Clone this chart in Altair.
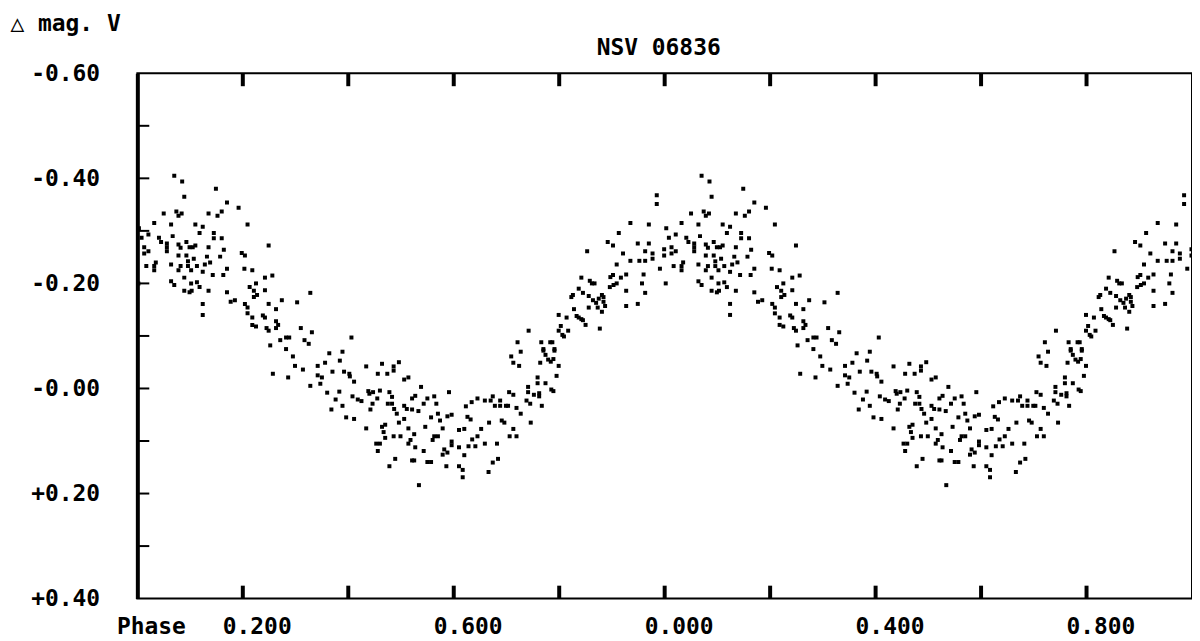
import altair as alt
import pandas as pd

# Phased photometry of NSV 06836 (one cycle, phase 0..1); chart repeats it over two cycles.
PHASE = [
    .070, .085, .089, .149, .170, .192, .050, .074, .078, .084, .135, .152, .160, .032, .064, .110,
    .124, .118, .145, .003, .008, .021, .041, .045, .067, .145, .160, .013, .013, .021, .056, .056,
    .056, .078, .082, .093, .099, .105, .110, .135, .164, .198, .204, .078, .093, .107, .132, .157,
    .096, .138, .017, .035, .032, .032, .064, .082, .078, .096, .102, .113, .128, .124, .170, .203,
    .143, .163, .089, .064, .070, .102, .113, .118, .089, .099, .103, .135, .170, .177, .185, .204,
    .124, .124, .209, .249, .218, .242, .256, .225, .213, .221, .227, .221, .242, .328, .274, .303,
    .209, .209, .249, .263, .218, .238, .242, .263, .267, .263, .218, .225, .245, .249, .310, .331,
    .406, .282, .288, .271, .317, .325, .252, .282, .364, .389, .295, .384, .356, .299, .342, .314,
    .370, .392, .402, .403, .257, .342, .350, .286, .347, .360, .376, .389, .368, .396, .383, .328,
    .434, .464, .486, .486, .496, .456, .474, .411, .506, .514, .538, .591, .438, .440, .447, .460,
    .478, .483, .408, .418, .425, .455, .446, .475, .483, .521, .527, .550, .563, .543, .567, .506,
    .511, .521, .487, .492, .442, .533, .570, .557, .588, .596, .411, .506, .574, .496, .470, .464,
    .434, .514, .546, .579, .610, .467, .525, .486, .499, .470, .563, .570, .560, .518, .514, .596,
    .596, .453, .460, .527, .610, .582, .588, .579, .456, .543, .489, .521, .525, .550, .557, .478,
    .586, .610, .534, .727, .770, .774, .779, .784, .789, .791, .709, .713, .724, .764, .799, .795,
    .759, .759, .774, .741, .741, .785, .789, .705, .713, .752, .762, .762, .674, .670, .645, .659,
    .688, .634, .623, .678, .688, .699, .703, .738, .745, .767, .719, .727, .626, .632, .691, .696,
    .667, .746, .620, .652, .713, .645, .635, .706, .719, .628, .641, .659, .682, .620, .684, .674,
    .617, .666, .617, .742, .721, .766, .783, .787, .770, .791, .842, .858, .862, .867, .897, .902,
    .917, .927, .960, .896, .903, .909, .957, .002, .837, .845, .927, .963, .826, .823, .856, .864,
    .870, .875, .881, .884, .884, .887, .927, .949, .856, .873, .881, .828, .799, .814, .833, .837,
    .842, .845, .850, .877, .803, .799, .817, .806, .809, .985, .985, .935, .970, .913, .892, .902,
    .949, .970, .853, .921, .963, .977, .977, .999, .999, .935, .952, .963, .909, .991,
]
MAG = [
    -.405, -.394, -.365, -.380, -.354, -.344, -.333, -.337, -.329, -.333, -.333, -.329, -.337, -.315, -.312, -.312,
    -.308, -.296, -.296, -.305, -.287, -.293, -.287, -.279, -.290, -.286, -.286, -.269, -.257, -.261, -.276, -.261,
    -.269, -.274, -.268, -.279, -.269, -.269, -.272, -.269, -.264, -.258, -.253, -.253, -.253, -.247, -.251, -.251,
    -.242, -.240, -.233, -.240, -.233, -.225, -.236, -.233, -.225, -.233, -.225, -.233, -.236, -.222, -.228, -.228,
    -.216, -.216, -.211, -.204, -.197, -.200, -.202, -.193, -.186, -.183, -.186, -.186, -.183, -.165, -.168, -.161,
    -.161, -.140, -.312, -.272, -.225, -.211, -.215, -.200, -.193, -.186, -.178, -.174, -.187, -.182, -.168, -.164,
    -.154, -.143, -.161, -.151, -.135, -.139, -.135, -.128, -.121, -.115, -.121, -.118, -.115, -.110, -.115, -.107,
    -.097, -.097, -.097, -.092, -.092, -.085, -.082, -.075, -.067, -.070, -.061, -.053, -.049, -.043, -.043, -.036,
    -.032, -.032, -.028, -.023, -.028, -.025, -.021, -.021, -.009, .008, .021, .033, .040, .055, .006, -.005,
    -.042, -.047, -.042, -.034, -.050, -.028, -.028, -.013, -.017, -.021, -.003, .007, .005, .010, .007, .004,
    .007, .016, .015, .021, .024, .019, .029, .029, .029, .019, .014, .019, .015, .029, .029, .033,
    .039, .040, .039, .048, .040, .043, .048, .055, .053, .050, .058, .058, .061, .065, .069, .073,
    .076, .076, .073, .076, .079, .083, .087, .091, .091, .094, .091, .091, .098, .098, .105, .101,
    .108, .105, .105, .112, .112, .116, .122, .126, .119, .119, .134, .137, .137, .140, .140, .148,
    .148, .148, .184, -.070, -.072, -.064, -.055, -.051, -.056, -.072, -.061, -.049, -.043, -.049, -.043, -.024,
    -.021, -.010, -.010, -.003, .007, .002, .005, .007, .012, .012, .009, .015, .015, .023, .019, .023,
    .023, .026, .034, .033, .033, .033, .033, .023, .029, .033, .037, .048, .054, .059, .061, .065,
    .065, .065, .077, .077, .077, .091, .097, .091, .091, .110, .110, .105, .105, .127, .134, .141,
    .155, .159, .169, -.110, -.088, -.088, -.088, -.088, -.075, -.075, -.211, -.205, -.200, -.200, -.212, -.216,
    -.211, -.217, -.217, -.193, -.197, -.200, -.200, -.200, -.190, -.182, -.186, -.182, -.178, -.174, -.176, -.168,
    -.163, -.171, -.178, -.174, -.165, -.157, -.157, -.161, -.154, -.154, -.146, -.151, -.140, -.135, -.138, -.135,
    -.132, -.130, -.121, -.114, -.119, -.110, -.110, -.102, -.099, -.368, -.351, -.315, -.312, -.296, -.279, -.272,
    -.276, -.276, -.261, -.257, -.261, -.257, -.247, -.265, -.253, -.243, -.243, -.243, -.236, -.228,
]

TITLE = ["NSV 06836"]
X_LABELS = [0.2, 0.6, 1.0, 1.4, 1.8]          # shown as 0.200 0.600 0.000 0.400 0.800
X_TICKS = [0.2, 0.4, 0.6, 0.8, 1.0, 1.2, 1.4, 1.6, 1.8]
Y_LABELS = [-0.6, -0.4, -0.2, 0.0, 0.2, 0.4]
Y_TICKS = [-0.5, -0.4, -0.3, -0.2, -0.1, 0.0, 0.1, 0.2, 0.3]

one = pd.DataFrame({"phase": PHASE, "mag": MAG})
two = one.copy()
two["phase"] = two["phase"] + 1.0
pts = pd.concat([one, two], ignore_index=True)

FONT = "DejaVu Sans Mono"
FS = 23

x_enc = alt.X(
    "phase:Q",
    scale=alt.Scale(domain=[0, 2], nice=False, zero=False),
    axis=alt.Axis(
        values=X_LABELS,
        labelExpr="format(datum.value % 1, '.3f')",
        ticks=False, tickSize=0, grid=False, domain=False,
        labelPadding=17, labelBaseline="top", labelOffset=14,
        labelFont=FONT, labelFontSize=FS, labelFontWeight="bold", labelColor="black",
        labelFlush=False, labelOverlap=False,
        title="Phase", titleFont=FONT, titleFontSize=FS, titleFontWeight="bold",
        titleColor="black", titleX=-21, titleY=17, titleAlign="left", titleBaseline="top",
    ),
)
y_enc = alt.Y(
    "mag:Q",
    scale=alt.Scale(domain=[-0.6, 0.4], reverse=True, nice=False, zero=False),
    axis=alt.Axis(
        values=Y_LABELS,
        labelExpr="(datum.value > 0.001 ? '+' : '-') + format(abs(datum.value), '.2f')",
        ticks=False, tickSize=0, grid=False, domain=True, domainWidth=4, domainColor="black",
        labelPadding=38, labelBaseline="middle",
        labelFont=FONT, labelFontSize=FS, labelFontWeight="bold", labelColor="black",
        labelFlush=False, labelOverlap=False,
        title="△ mag. V", titleFont=FONT, titleFontSize=FS, titleFontWeight="bold",
        titleColor="black", titleAngle=0, titleX=-128, titleY=-61,
        titleAlign="left", titleBaseline="top",
    ),
)

points = alt.Chart(pts).mark_square(size=16, color="black", opacity=1, filled=True, clip=True).encode(
    x=x_enc, y=y_enc
)

xt = pd.DataFrame({"phase": X_TICKS})
yt = pd.DataFrame({"mag": Y_TICKS})

top_ticks = alt.Chart(xt).mark_rule(color="black", strokeWidth=4).encode(
    x=x_enc, y=alt.value(0), y2=alt.value(13)
)
bottom_ticks = alt.Chart(xt).mark_rule(color="black", strokeWidth=4).encode(
    x=x_enc, y=alt.value(515), y2=alt.value(528)
)
left_ticks = alt.Chart(yt).mark_rule(color="black", strokeWidth=2).encode(
    y=y_enc, x=alt.value(0), x2=alt.value(12)
)
title = alt.Chart(pd.DataFrame({"t": TITLE})).mark_text(
    font=FONT, fontSize=FS, fontWeight="bold", color="black", align="center", baseline="middle"
).encode(text="t:N", x=alt.value(524), y=alt.value(-25))

chart = (
    alt.layer(points, top_ticks, bottom_ticks, left_ticks, title)
    .properties(
        width=1060,
        height=528,
        padding={"left": 130, "top": 64, "right": 0, "bottom": 41},
        autosize=alt.AutoSizeParams(type="none"),
        background="white",
    )
    .configure_view(stroke="black", strokeWidth=2)
)

chart.save("out.html", embed_options={"renderer": "svg", "actions": False})
